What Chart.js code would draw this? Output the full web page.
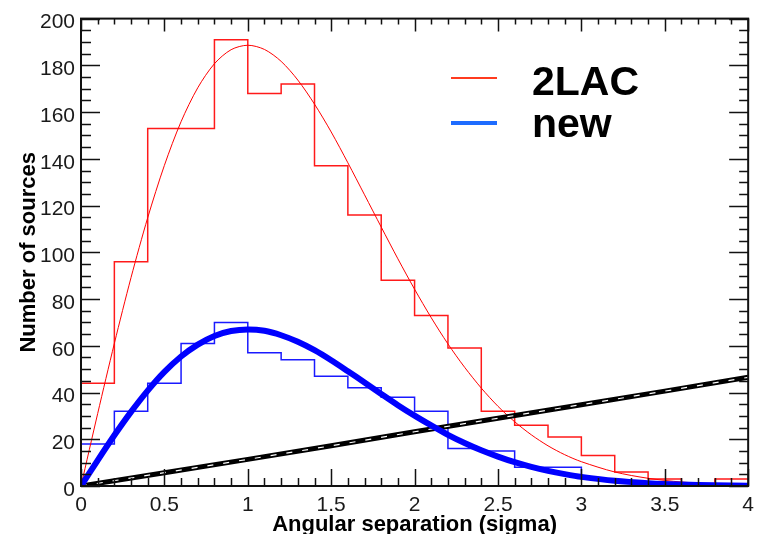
<!DOCTYPE html>
<html>
<head>
<meta charset="utf-8">
<script src="https://cdn.jsdelivr.net/npm/chart.js@4.4.1/dist/chart.umd.min.js"></script>
<style>
  html, body { margin: 0; padding: 0; background: #fff; overflow: hidden; }
  #wrap { width: 761px; height: 534px; overflow: hidden; }
</style>
</head>
<body>
<div id="wrap"><canvas id="chart" width="761" height="534"></canvas></div>
<script>
// ---- data ----
const binEdges = [0, 0.2, 0.4, 0.6, 0.8, 1.0, 1.2, 1.4, 1.6, 1.8, 2.0,
  2.2, 2.4, 2.6, 2.8, 3.0, 3.2, 3.4, 3.6, 3.8, 4.0];
const lacCounts = [44, 96, 153, 153, 191, 168, 172, 137, 116, 88,
  73, 59, 32, 26, 21, 13, 6, 3, 1, 3];
const newCounts = [18, 32, 44, 61, 70, 57, 54, 47, 42, 38,
  32, 16, 15, 8, 8, 3, 1.5, 1, 0, 0];

const fitX = [0, 0.1, 0.2, 0.3, 0.4, 0.5, 0.6, 0.7, 0.8, 0.9, 1.0,
  1.1, 1.2, 1.3, 1.4, 1.5, 1.6, 1.7, 1.8, 1.9, 2.0,
  2.1, 2.2, 2.3, 2.4, 2.5, 2.6, 2.7, 2.8, 2.9, 3.0,
  3.2, 3.4, 3.6, 3.8, 4.0];
const lacFit = [0, 31, 61, 89.2, 114.8, 137.2, 155.9, 170.4, 180.7, 186.7, 188.6,
  186.8, 181.7, 173.7, 163.4, 151.5, 138.3, 124.6, 110.8, 97.2, 84.2,
  72, 60.8, 50.8, 41.9, 34.1, 27.5, 21.9, 17.2, 13.4, 10.4,
  6, 3.3, 1.7, 0.9, 0.4];
const newFit = [0, 11, 21.7, 31.7, 40.8, 48.8, 55.4, 60.5, 64.2, 66.3, 67,
  66.4, 64.5, 61.7, 58.1, 53.8, 49.1, 44.3, 39.4, 34.6, 30.1,
  25.9, 21.9, 18.4, 15.3, 12.6, 10.2, 8.2, 6.5, 5.1, 3.9,
  2.2, 1.2, 0.6, 0.3, 0.15];

const bgX = [0, 0.5, 1, 1.5, 2, 2.5, 3, 3.5, 4];
const bgLine = [0, 5.7, 11.4, 17.2, 23.2, 29, 34.8, 40.6, 46.5];

const xMajor = [0, 0.5, 1, 1.5, 2, 2.5, 3, 3.5, 4];
const xLabels = ['0', '0.5', '1', '1.5', '2', '2.5', '3', '3.5', '4'];
const yMajor = [0, 20, 40, 60, 80, 100, 120, 140, 160, 180, 200];
const legendNames = ['2LAC', 'new'];

const FONT = '"Liberation Sans", Arial, Helvetica, sans-serif';

function histPoints(counts) {
  return binEdges.map((x, i) => ({ x, y: counts[Math.min(i, counts.length - 1)] }));
}
function curvePoints(xs, ys) {
  return xs.map((x, i) => ({ x, y: ys[i] }));
}

// ROOT-style frame with inward ticks on all four sides
const frameTicks = {
  id: 'frameTicks',
  afterDatasetsDraw(chart) {
    const { ctx, chartArea: a, scales: { x, y } } = chart;
    ctx.save();
    ctx.strokeStyle = '#111';
    ctx.lineWidth = 1.5;
    ctx.beginPath();
    for (let k = 0; k <= 40; k++) {
      const px = Math.round(x.getPixelForValue(k / 10)) + 0.5;
      const major = k % 5 === 0;
      ctx.moveTo(px, a.bottom);
      ctx.lineTo(px, a.bottom - (major ? 17 : 8));
      ctx.moveTo(px, a.top);
      ctx.lineTo(px, a.top + (major ? 13 : 6));
    }
    for (let k = 0; k <= 40; k++) {
      const py = Math.round(y.getPixelForValue(k * 5)) + 0.5;
      const major = k % 4 === 0;
      ctx.moveTo(a.left, py);
      ctx.lineTo(a.left + (major ? 19 : 10), py);
      ctx.moveTo(a.right, py);
      ctx.lineTo(a.right - (major ? 19 : 9), py);
    }
    ctx.stroke();
    ctx.lineWidth = 2;
    ctx.strokeRect(a.left, a.top, a.right - a.left, a.bottom - a.top);
    ctx.restore();
  }
};

const legendBox = {
  id: 'legendBox',
  afterDraw(chart) {
    const { ctx, chartArea: a } = chart;
    const lx = a.left + 370, tx = a.left + 451;
    ctx.save();
    ctx.lineWidth = 2;
    ctx.strokeStyle = '#ff3b1f';
    ctx.beginPath(); ctx.moveTo(lx, 78); ctx.lineTo(lx + 46, 78); ctx.stroke();
    ctx.lineWidth = 4;
    ctx.strokeStyle = '#1e6cff';
    ctx.beginPath(); ctx.moveTo(lx, 123); ctx.lineTo(lx + 46, 123); ctx.stroke();
    ctx.fillStyle = '#000';
    ctx.font = 'bold 41px ' + FONT;
    ctx.textBaseline = 'alphabetic';
    ctx.fillText(legendNames[0], tx, 95);
    ctx.fillText(legendNames[1], tx, 137);
    ctx.restore();
  }
};

const whiteBg = {
  id: 'whiteBg',
  beforeDraw(chart) {
    const { ctx, width, height } = chart;
    ctx.save();
    ctx.fillStyle = '#fff';
    ctx.fillRect(0, 0, width, height);
    ctx.restore();
  }
};

new Chart(document.getElementById('chart'), {
  type: 'line',
  data: {
    datasets: [
      {
        label: 'new fit',
        data: curvePoints(fitX, newFit),
        borderColor: '#0000ff',
        borderWidth: 6,
        tension: 0.3,
        order: 1
      },
      {
        label: 'background dash',
        data: curvePoints(bgX, bgLine),
        borderColor: '#ffffff',
        borderWidth: 1.2,
        borderDash: [6, 10],
        order: 2
      },
      {
        label: 'background',
        data: curvePoints(bgX, bgLine),
        borderColor: '#000000',
        borderWidth: 5,
        order: 3
      },
      {
        label: '2LAC fit',
        data: curvePoints(fitX, lacFit),
        borderColor: '#ff0000',
        borderWidth: 1,
        tension: 0.3,
        order: 4
      },
      {
        label: 'new',
        data: histPoints(newCounts),
        borderColor: '#1a1aff',
        borderWidth: 1.5,
        stepped: 'before',
        order: 5
      },
      {
        label: '2LAC',
        data: histPoints(lacCounts),
        borderColor: '#ff1a1a',
        borderWidth: 1.5,
        stepped: 'before',
        order: 6
      }
    ]
  },
  options: {
    responsive: false,
    animation: false,
    events: [],
    layout: { padding: { top: 13, right: 9, left: 0, bottom: 0 } },
    elements: { point: { radius: 0 } },
    plugins: { legend: { display: false }, tooltip: { enabled: false } },
    scales: {
      x: {
        type: 'linear',
        min: 0,
        max: 4,
        afterBuildTicks: (s) => { s.ticks = xMajor.map((v) => ({ value: v })); },
        afterFit: (s) => { s.height = 48; },
        grid: { display: false, drawTicks: false },
        border: { display: false },
        ticks: {
          padding: 7,
          color: '#1a1a1a',
          font: { family: FONT, size: 21 },
          maxRotation: 0,
          autoSkip: false,
          callback: (v, i) => xLabels[i]
        },
        title: {
          display: true,
          text: 'Angular separation (sigma)',
          color: '#000',
          font: { family: FONT, size: 22, weight: 'bold' },
          padding: { top: 0, bottom: -4 }
        }
      },
      y: {
        type: 'linear',
        min: 0,
        max: 200,
        afterBuildTicks: (s) => { s.ticks = yMajor.map((v) => ({ value: v })); },
        afterFit: (s) => { s.width = 81; },
        grid: { display: false, drawTicks: false },
        border: { display: false },
        ticks: {
          padding: 6,
          labelOffset: 4,
          color: '#1a1a1a',
          font: { family: FONT, size: 21 },
          autoSkip: false
        },
        title: {
          display: true,
          text: 'Number of sources',
          color: '#000',
          font: { family: FONT, size: 22, weight: 'bold' },
          padding: { top: 16, bottom: 0 }
        }
      }
    }
  },
  plugins: [whiteBg, frameTicks, legendBox]
});
</script>
</body>
</html>
